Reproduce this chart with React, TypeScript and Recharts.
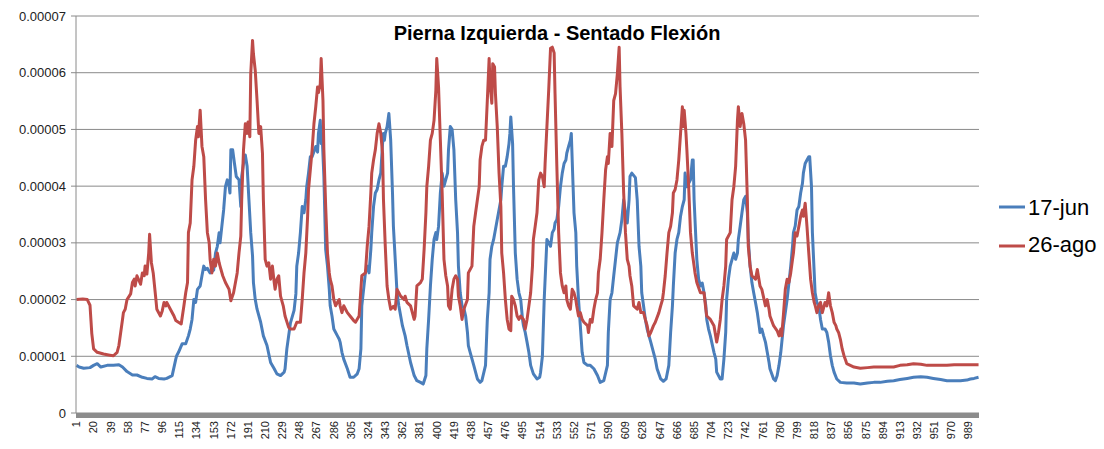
import { LineChart, Line, XAxis, YAxis, CartesianGrid } from 'recharts';

// sample index (1..1000) and value in units of 1e-6
const junIdx = [
  1, 4, 9, 16, 20, 24, 28, 35, 42, 48, 52, 57, 63, 68, 74, 79, 85, 88, 92, 98,
  101, 107, 111, 112, 114, 118, 122, 125, 127, 129, 131, 133, 135, 138, 140, 142, 144, 146, 149, 153,
  155, 157, 159, 160, 162, 164, 166, 168, 170, 171, 172, 174, 176, 178, 181, 183, 184, 186, 188, 190,
  192, 194, 196, 197, 199, 201, 205, 208, 212, 216, 220, 223, 227, 231, 232, 234, 238, 242, 244, 245,
  247, 249, 251, 253, 255, 256, 258, 260, 262, 266, 268, 269, 271, 272, 273, 275, 277, 279, 281, 282,
  284, 286, 290, 292, 293, 295, 297, 301, 304, 308, 312, 314, 316, 317, 319, 321, 323, 325, 327, 328,
  330, 332, 334, 336, 338, 340, 341, 342, 343, 345, 347, 349, 351, 352, 354, 356, 358, 362, 365, 367,
  371, 375, 378, 382, 385, 388, 389, 391, 393, 395, 397, 399, 400, 402, 404, 406, 408, 412, 413, 415,
  417, 419, 421, 423, 424, 426, 428, 430, 432, 434, 435, 437, 441, 445, 448, 450, 454, 456, 458, 459,
  461, 463, 467, 471, 472, 474, 476, 478, 480, 481, 482, 484, 485, 487, 489, 491, 493, 495, 496, 498,
  500, 502, 504, 507, 511, 514, 515, 517, 519, 522, 524, 526, 528, 530, 531, 533, 535, 537, 539, 541,
  543, 544, 546, 548, 549, 551, 552, 554, 555, 557, 559, 561, 563, 567, 570, 574, 578, 581, 585, 589,
  590, 592, 594, 596, 598, 600, 603, 605, 607, 609, 611, 613, 614, 616, 620, 622, 624, 626, 627, 629,
  631, 633, 637, 640, 642, 644, 648, 651, 654, 657, 659, 661, 662, 664, 666, 668, 670, 672, 674, 675,
  677, 681, 683, 684, 685, 687, 688, 690, 692, 694, 696, 698, 699, 701, 703, 707, 709, 710, 714, 716,
  718, 720, 721, 723, 725, 729, 731, 733, 734, 736, 738, 740, 742, 744, 745, 747, 749, 751, 753, 755,
  757, 758, 760, 762, 764, 766, 768, 769, 773, 775, 777, 779, 781, 784, 788, 792, 794, 795, 797, 799,
  801, 803, 805, 806, 808, 810, 812, 813, 815, 816, 818, 819, 821, 823, 825, 827, 830, 832, 834, 836,
  838, 840, 843, 847, 854, 862, 869, 877, 884, 891, 899, 906, 913, 921, 928, 936, 943, 950, 958, 965,
  973, 980, 987, 991, 995, 1000,
];
const junVal = [
  8.4, 8.1, 7.9, 8.0, 8.4, 8.7, 8.1, 8.4, 8.4, 8.5, 8.1, 7.3, 6.7, 6.7, 6.3, 6.1, 6.0, 6.4, 6.1, 6.0,
  6.1, 6.6, 9.5, 10.1, 10.7, 12.2, 12.2, 13.6, 14.8, 16.5, 20, 19.5, 21.8, 22.4, 24.2, 25.9, 25.3, 25.5, 24.7, 25.2,
  28.2, 29.4, 31.8, 30, 32.9, 35.8, 39.9, 41.1, 40, 38.8, 46.4, 46.4, 44, 41.7, 41.1, 36.4, 41.7, 44, 45.5, 43.5,
  37.6, 31.8, 27.7, 23, 20, 18.3, 16, 13.6, 11.9, 8.9, 7.8, 6.9, 6.6, 7.2, 7.8, 11.3, 15.9, 18.1, 21, 25.9,
  28.2, 31.8, 36.4, 35.3, 37.6, 39.9, 42.3, 45.2, 45.2, 47, 46, 49.3, 51.6, 47.5, 49.3, 41.7, 28.8, 25.9, 21.8, 18.9,
  17.1, 14.8, 13.6, 13, 12.5, 10.7, 9.5, 7.8, 6.3, 6.3, 6.9, 7.8, 11.3, 18.9, 21.8, 24.7, 25.9, 24.7, 28.8, 31.8,
  36.4, 38.8, 39.4, 41.1, 42.3, 47.5, 49.3, 48.1, 49.3, 50.5, 52.8, 48.1, 38.8, 32.9, 27.1, 21.2, 18.9, 15.4, 13.6, 11.9,
  8.9, 6.6, 5.7, 5.4, 5.1, 6.6, 11.3, 16.5, 22.4, 27.1, 30.6, 31.8, 30.6, 32.9, 38.8, 42.3, 40, 42.3, 46.4, 50.5,
  50, 46.4, 37.6, 31.8, 25.9, 21.2, 18.9, 18.5, 17.1, 14.2, 11.9, 10.7, 8.4, 6.0, 5.4, 5.7, 8.4, 16.5, 21.2, 27.1,
  29.4, 30.6, 34.1, 37.6, 39.9, 43.5, 43.5, 45.2, 47.5, 49.3, 52.2, 47.5, 39.9, 28.2, 23.6, 21.2, 20, 16.5, 15.4, 14.2,
  12.5, 10.7, 8.4, 6.9, 6.0, 6.3, 7.2, 10, 20, 30.6, 30, 29.4, 31.8, 32.4, 33.5, 34.1, 36.4, 39.9, 42.3, 44,
  44.6, 45.8, 47, 48.1, 49.3, 39.9, 35.3, 31.8, 25.9, 20, 15.4, 10.7, 8.9, 8.4, 8.4, 7.8, 6.6, 5.4, 5.7, 8.4,
  14.2, 20, 21.2, 24.2, 27.1, 30, 31.8, 34.1, 37.6, 35.3, 33.5, 37.6, 41.7, 42.3, 41.5, 37.6, 29.4, 25.9, 21.2, 18.9,
  16.5, 14.8, 12.5, 10.7, 9.5, 7.8, 6.0, 5.6, 6.0, 8.4, 14.2, 18.9, 22.4, 28.2, 30.6, 31.8, 34.7, 36.4, 37.6, 42.3,
  39.9, 41.1, 44.6, 44.6, 37.6, 30.6, 27.1, 23.6, 22.4, 22.9, 21.2, 18.9, 16.5, 14.8, 13.6, 10.7, 9.5, 7.2, 6.0, 6.0,
  9.5, 14.2, 20, 23.6, 25.9, 28.2, 27.1, 28.2, 30.6, 32.9, 35.3, 37.6, 38.2, 35.3, 30.6, 25.9, 23, 21.2, 19.5, 17.7,
  15.4, 14.2, 14.8, 13.6, 12.5, 10.7, 8.9, 7.8, 6.0, 5.7, 6.6, 8.4, 10.7, 15.4, 20, 25.9, 29.4, 31.8, 33, 35.8,
  36.4, 38.8, 40.5, 42.3, 44, 44.6, 45.2, 45.2, 39.9, 31.8, 24.7, 21.2, 19.5, 18.9, 16.5, 14.8, 14.8, 14.2, 12.5, 10.1,
  8.4, 7.2, 6.0, 5.4, 5.3, 5.3, 5.1, 5.3, 5.4, 5.4, 5.6, 5.7, 5.9, 6.1, 6.3, 6.4, 6.3, 6.1, 5.9, 5.7,
  5.7, 5.7, 5.8, 6.0, 6.1, 6.3,
];

const agoIdx = [
  1, 8, 13, 16, 18, 20, 24, 31, 38, 42, 46, 48, 50, 52, 53, 55, 57, 61, 63, 65,
  66, 68, 72, 74, 76, 77, 79, 81, 82, 84, 86, 89, 90, 94, 96, 98, 100, 101, 105, 109,
  111, 114, 117, 120, 122, 124, 125, 127, 129, 131, 133, 135, 136, 138, 140, 142, 144, 146, 148, 149,
  151, 153, 155, 157, 159, 160, 163, 166, 170, 172, 175, 179, 181, 183, 184, 186, 188, 190, 191, 193,
  194, 196, 197, 199, 201, 203, 205, 207, 208, 210, 212, 214, 216, 218, 220, 221, 223, 225, 227, 230,
  232, 236, 238, 242, 245, 249, 251, 253, 255, 257, 258, 262, 264, 266, 268, 269, 271, 272, 274, 275,
  277, 279, 281, 282, 284, 286, 288, 290, 292, 293, 295, 297, 299, 301, 304, 308, 310, 314, 317, 321,
  323, 325, 327, 328, 330, 332, 334, 336, 338, 340, 341, 343, 345, 347, 349, 352, 354, 356, 358, 360,
  364, 365, 367, 371, 375, 376, 378, 382, 384, 386, 388, 389, 391, 393, 395, 397, 399, 400, 402, 404,
  406, 408, 410, 412, 413, 415, 417, 419, 421, 423, 424, 426, 428, 430, 434, 435, 439, 441, 443, 445,
  447, 448, 450, 452, 454, 456, 458, 459, 461, 462, 464, 465, 467, 469, 471, 472, 474, 476, 478, 480,
  482, 483, 485, 487, 489, 491, 493, 496, 498, 500, 504, 506, 507, 509, 511, 513, 515, 517, 519, 520,
  522, 524, 526, 528, 530, 531, 533, 535, 537, 539, 541, 543, 544, 546, 548, 550, 552, 554, 555, 557,
  559, 561, 563, 567, 568, 570, 572, 574, 576, 578, 579, 581, 583, 585, 587, 589, 590, 592, 594, 596,
  598, 600, 602, 603, 605, 607, 609, 611, 613, 614, 616, 618, 622, 624, 626, 629, 631, 633, 635, 637,
  640, 642, 646, 648, 650, 651, 653, 655, 657, 659, 661, 662, 664, 666, 668, 670, 672, 673, 674, 676,
  677, 679, 681, 683, 685, 686, 688, 692, 696, 698, 699, 703, 707, 710, 712, 714, 716, 718, 720, 721,
  725, 727, 729, 731, 733, 734, 736, 738, 740, 742, 744, 745, 747, 749, 753, 755, 758, 760, 764, 766,
  768, 769, 773, 777, 779, 781, 782, 784, 786, 788, 790, 792, 794, 795, 797, 799, 801, 803, 805, 806,
  808, 809, 810, 812, 814, 816, 818, 819, 821, 823, 825, 827, 829, 830, 832, 834, 836, 838, 840, 842,
  843, 845, 847, 849, 851, 853, 854, 858, 862, 869, 877, 884, 891, 899, 906, 913, 921, 928, 936, 943,
  950, 958, 965, 973, 980, 987, 995, 1000,
];
const agoVal = [
  20.0, 20.1, 20.0, 19, 14, 11.3, 10.7, 10.4, 10.2, 10.1, 10.7, 11.9, 14.2, 16.5, 17.7, 18.3, 20, 21, 23, 23.6,
  22.4, 24.2, 22.7, 24.7, 24.2, 25.9, 24.5, 28.2, 31.5, 26.5, 24.7, 20, 18.3, 17.1, 18, 19.5, 18.9, 19.5, 18.3, 17.1,
  16.3, 16, 15.7, 18.9, 21.2, 23, 31.8, 33.5, 41.1, 43.5, 48.1, 50.5, 48.7, 53.4, 47, 45.2, 37.6, 31.8, 30, 27.1,
  24.7, 27.1, 25.9, 28.2, 26.5, 25.9, 24.2, 23, 21.8, 19.8, 21.2, 24.7, 28.2, 31.2, 37.6, 46.4, 51, 49.3, 51.3, 48.7,
  59.8, 65.7, 63.3, 60.4, 55.1, 49.3, 50.5, 45.8, 37.6, 27.1, 25.9, 26.5, 23.6, 25.9, 23, 21.8, 23.6, 24.2, 20.6, 18.9,
  17.1, 15.1, 14.8, 14.8, 16, 16, 20, 24.7, 28.2, 34.7, 39.4, 46.4, 51, 54, 57.5, 56.5, 58, 62.5, 55.1, 46.4,
  36.4, 28.2, 24.7, 23.6, 22.4, 20, 18.9, 19.5, 20, 18.9, 17.7, 18.9, 18.3, 17.7, 17.1, 16.3, 16, 17.1, 24.2, 24.7,
  29.4, 32.9, 38.8, 42.3, 44.6, 46.4, 49.3, 51, 49.3, 45.8, 37.6, 29.4, 22.4, 20, 18.3, 18.8, 18.3, 21.8, 21.2, 20.6,
  20, 20.6, 19.5, 18.9, 16.5, 17.1, 22.4, 23, 23.6, 28.8, 35.3, 39.9, 43.5, 48.1, 49.3, 51.6, 56.9, 62.5, 57.5, 48.1,
  38.8, 27.1, 24.2, 22.4, 18.9, 18.3, 21.8, 23.6, 24.2, 23.6, 20.6, 18.9, 16.5, 18.3, 20, 24.7, 25.9, 32.9, 35.3, 37.6,
  39.9, 44.6, 47, 48.1, 48.1, 55.1, 62.5, 58.1, 54.6, 61.6, 61, 56.3, 50.5, 42.3, 36.4, 28.2, 24.7, 20, 16.5, 14.8,
  14.5, 20.6, 20, 18.9, 17.1, 16.5, 17.1, 16.5, 14.8, 16.5, 21.2, 25.9, 30.6, 32.9, 35.3, 41.1, 42.3, 41.7, 39.9, 44,
  50.5, 57, 64.3, 64.5, 63.5, 56.3, 43.5, 31.8, 24.7, 22.4, 21.2, 22.4, 20, 18.9, 18.3, 21.8, 21.2, 20, 18.9, 17.1,
  17.7, 16.5, 16, 15.4, 14.2, 16.5, 16, 18.3, 20, 21.2, 24.7, 27.1, 31.8, 37.6, 42.9, 45.2, 44, 49.3, 47, 55.1,
  56.3, 59.8, 64.5, 57.5, 49.3, 38.8, 31.8, 27.1, 25.9, 24.2, 22.4, 18.9, 18.3, 19.5, 17.7, 17.7, 16.5, 15.4, 13.6, 14.2,
  15.4, 16, 17.7, 18.9, 20, 21.2, 24.2, 28.2, 31.8, 32.9, 35.3, 38.8, 39.4, 41.1, 44.6, 49.3, 54, 50.5, 53.4, 49.3,
  46.4, 39.9, 31.8, 28.2, 25.9, 24.7, 23, 21.2, 21.2, 18.3, 17.1, 16.5, 15.4, 12.5, 14.2, 16.5, 20, 22.4, 25.9, 30.6,
  31.8, 37.6, 39.9, 43.5, 51.6, 54, 50.5, 52.8, 51, 48.1, 37.6, 29.4, 25.9, 24.2, 23.6, 25.3, 22.4, 21.8, 18.9, 20,
  18.3, 17.1, 15.4, 14.5, 13.6, 14.8, 13.6, 17.5, 21.8, 23.6, 23, 24.7, 27.1, 28.2, 31.8, 31.2, 32.9, 34.7, 35.8, 34.7,
  37, 35, 32.9, 28.2, 23.6, 21.2, 19.5, 19, 17.7, 18.9, 19.5, 17.7, 18.9, 19.5, 18.9, 21.2, 18.9, 17.7, 16, 15.4,
  14.8, 14.2, 13, 11.3, 10.1, 9.2, 8.7, 8.4, 8.1, 7.9, 8.0, 8.1, 8.1, 8.1, 8.1, 8.4, 8.5, 8.7, 8.6, 8.4,
  8.4, 8.4, 8.4, 8.5, 8.5, 8.5, 8.5, 8.5,
];

const xTicks = [
  1, 20, 39, 58, 77, 96, 115, 134, 153, 172, 191, 210, 229, 248, 267, 286, 305, 324, 343, 362,
  381, 400, 419, 438, 457, 476, 495, 514, 533, 552, 571, 590, 609, 628, 647, 666, 685, 704, 723, 742,
  761, 780, 799, 818, 837, 856, 875, 894, 913, 932, 951, 970, 989,
];
const yTicks = [0, 10, 20, 30, 40, 50, 60, 70];
const yLabels = ['0', '0.00001', '0.00002', '0.00003', '0.00004', '0.00005', '0.00006', '0.00007'];

const junData = junIdx.map((i, k) => ({ i, v: junVal[k] }));
const agoData = agoIdx.map((i, k) => ({ i, v: agoVal[k] }));

const BLUE = '#4a7ebb';
const RED = '#be4b48';
const GRID = '#8a8a8a';
const FONT = "'Liberation Sans', sans-serif";

const XTick = (props: any) => {
  const { x, y, payload } = props;
  return (
    <text
      x={x}
      y={y}
      transform={`rotate(-90, ${x}, ${y})`}
      textAnchor="end"
      dy="0.35em"
      fontSize={11}
      fill="#222"
      fontFamily={FONT}
    >
      {payload.value}
    </text>
  );
};

export default function App() {
  return (
    <div style={{ position: 'absolute', left: 0, top: 0, width: 1104, height: 449, background: '#fff' }}>
      <LineChart width={1104} height={449} margin={{ top: 16, right: 125, bottom: 0, left: 0 }}>
        <CartesianGrid vertical={false} stroke={GRID} />
        <XAxis
          dataKey="i"
          type="number"
          domain={[0.5, 1000.5]}
          ticks={xTicks}
          interval={0}
          height={36}
          tickSize={0}
          tickMargin={8}
          tickLine={false}
          axisLine={{ stroke: '#8c8c8c', strokeWidth: 5, transform: 'translate(0 2.5)' }}
          tick={<XTick />}
        />
        <YAxis
          type="number"
          domain={[0, 70]}
          ticks={yTicks}
          width={76}
          tickSize={5}
          tickMargin={5}
          axisLine={{ stroke: GRID }}
          tickLine={{ stroke: GRID }}
          tickFormatter={(v: number) => yLabels[yTicks.indexOf(v)]}
          tick={{ fontSize: 13, fill: '#222', fontFamily: FONT }}
        />
        <Line data={junData} dataKey="v" type="linear" stroke={BLUE} strokeWidth={3} strokeLinejoin="round" dot={false} isAnimationActive={false} />
        <Line data={agoData} dataKey="v" type="linear" stroke={RED} strokeWidth={3} strokeLinejoin="round" dot={false} isAnimationActive={false} />
      </LineChart>
      <svg width={1104} height={449} style={{ position: 'absolute', left: 0, top: 0, pointerEvents: 'none' }}>
        <text x={557} y={40} textAnchor="middle" fontSize={20} fontWeight="bold" fill="#000" fontFamily={FONT}>
          Pierna Izquierda - Sentado Flexión
        </text>
        <line x1={999} x2={1025} y1={207} y2={207} stroke={BLUE} strokeWidth={3} />
        <text x={1028} y={215} fontSize={22} fill="#000" fontFamily={FONT}>17-jun</text>
        <line x1={999} x2={1025} y1={246} y2={246} stroke={RED} strokeWidth={3} />
        <text x={1028} y={252} fontSize={22} fill="#000" fontFamily={FONT}>26-ago</text>
      </svg>
    </div>
  );
}
